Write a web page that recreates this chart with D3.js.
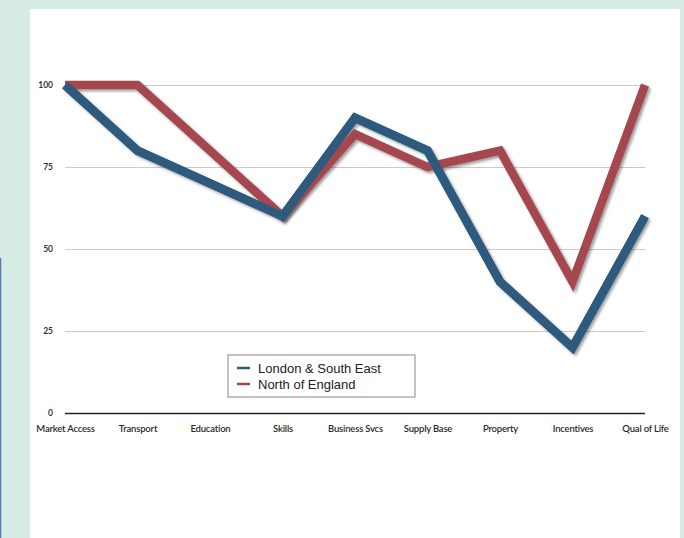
<!DOCTYPE html>
<html>
<head>
<meta charset="utf-8">
<script src="https://cdn.jsdelivr.net/npm/d3@7"></script>
<style>
  body { margin: 0; background: #d6ebe3; }
  svg { display: block; }
</style>
</head>
<body>
<svg id="chart" width="684" height="538"></svg>
<script>
// chart data
const categories = ["Market Access", "Transport", "Education", "Skills", "Business Svcs",
                    "Supply Base", "Property", "Incentives", "Qual of Life"];
const londonValues = [100, 80, 70, 60, 90, 80, 40, 20, 60];
const northValues = [100, 100, 80, 60, 85, 75, 80, 40, 100];
const yTicks = [0, 25, 50, 75, 100];
const seriesNames = ["London & South East", "North of England"];

const svg = d3.select("#chart");
const colors = ["#2e5a7d", "#a4474f"];

// page decoration: white panel and thin blue edge
svg.append("rect").attr("x", 30).attr("y", 9).attr("width", 650).attr("height", 540).attr("fill", "#fff");
svg.append("line").attr("x1", 0.5).attr("x2", 0.5).attr("y1", 258).attr("y2", 538)
    .attr("stroke", "#5a78b8").attr("stroke-width", 1.5);

const x = d3.scalePoint().domain(categories).range([65, 645]);
const y = d3.scaleLinear().domain([0, 100]).range([413, 85]);

const defs = svg.append("defs");
const shadow = defs.append("filter").attr("id", "shadow")
    .attr("x", "-10%").attr("y", "-10%").attr("width", "120%").attr("height", "120%");
shadow.append("feGaussianBlur").attr("in", "SourceAlpha").attr("stdDeviation", 1.5).attr("result", "blur");
shadow.append("feOffset").attr("in", "blur").attr("dx", 2).attr("dy", 2).attr("result", "off");
shadow.append("feComponentTransfer").attr("in", "off").attr("result", "soft")
    .append("feFuncA").attr("type", "linear").attr("slope", 0.4);
const merge = shadow.append("feMerge");
merge.append("feMergeNode").attr("in", "soft");
merge.append("feMergeNode").attr("in", "SourceGraphic");

// gridlines + y labels
const yAxis = svg.append("g").attr("transform", "translate(65,0)")
    .call(d3.axisLeft(y).tickValues(yTicks).tickSize(-580).tickPadding(12));
yAxis.select(".domain").remove();
yAxis.selectAll(".tick line").attr("stroke", d => d === 0 ? "#222" : "#d8c6c6")
    .attr("stroke-width", d => d === 0 ? 1.5 : 1);
yAxis.selectAll(".tick text").attr("fill", "#333").attr("font-family", "Lato, sans-serif")
    .attr("font-size", 8.5).attr("font-weight", "bold");

// x labels
const xAxis = svg.append("g").attr("transform", "translate(0,413)")
    .call(d3.axisBottom(x).tickSize(0).tickPadding(12));
xAxis.select(".domain").remove();
xAxis.selectAll(".tick text").attr("fill", "#2a2a2a").attr("font-family", "Lato, sans-serif")
    .attr("font-size", 9.5).attr("font-weight", 600).attr("letter-spacing", -0.2);

// lines
const line = d3.line().x((d, i) => x(categories[i])).y(d => y(d));
[londonValues, northValues].forEach((vals, k) => {
    svg.append("path").datum(vals)
        .attr("d", line)
        .attr("fill", "none")
        .attr("stroke", colors[k])
        .attr("stroke-width", 8.5)
        .attr("stroke-linejoin", "miter")
        .attr("filter", "url(#shadow)");
});
// blue drawn again on top, as in the reference
svg.append("path").datum(londonValues)
    .attr("d", line).attr("fill", "none").attr("stroke", colors[0]).attr("stroke-width", 8.5);

// legend
const lg = svg.append("g").attr("transform", "translate(228,355)");
lg.append("rect").attr("width", 187).attr("height", 42)
    .attr("fill", "#fff").attr("stroke", "#888").attr("stroke-width", 1);
seriesNames.forEach((name, i) => {
    const row = lg.append("g").attr("transform", `translate(0,${13 + i * 16})`);
    row.append("line").attr("x1", 9).attr("x2", 22).attr("y1", 0).attr("y2", 0)
        .attr("stroke", colors[i]).attr("stroke-width", 2.5);
    row.append("text").attr("x", 30).attr("y", 0).attr("dy", "0.35em")
        .attr("font-family", "Liberation Sans, Arial, sans-serif").attr("font-size", 13)
        .attr("fill", "#222").text(name);
});
</script>
</body>
</html>
